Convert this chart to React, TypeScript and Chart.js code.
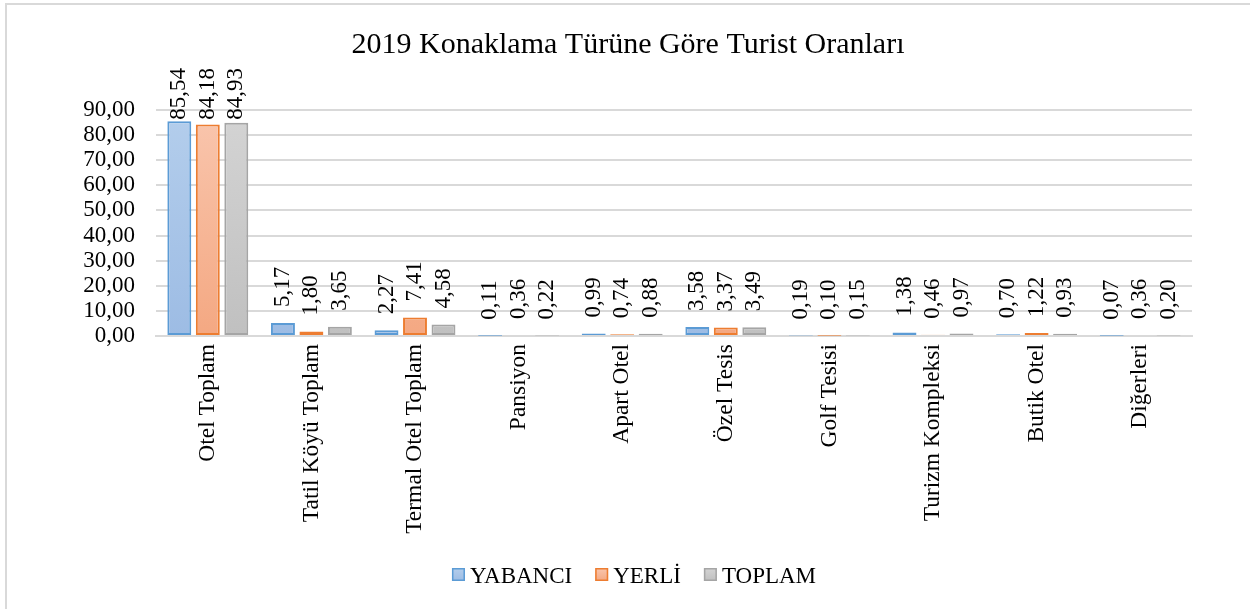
import React, { useEffect, useRef } from "react";
import { Chart, registerables } from "chart.js";

Chart.register(...registerables);

const title = "2019 Konaklama Türüne Göre Turist Oranları";
const categories = [
  "Otel Toplam",
  "Tatil Köyü Toplam",
  "Termal Otel Toplam",
  "Pansiyon",
  "Apart Otel",
  "Özel Tesis",
  "Golf Tesisi",
  "Turizm Kompleksi",
  "Butik Otel",
  "Diğerleri",
];
const seriesNames = ["YABANCI", "YERLİ", "TOPLAM"];
const yabanci = [85.54, 5.17, 2.27, 0.11, 0.99, 3.58, 0.19, 1.38, 0.7, 0.07];
const yerli = [84.18, 1.8, 7.41, 0.36, 0.74, 3.37, 0.1, 0.46, 1.22, 0.36];
const toplam = [84.93, 3.65, 4.58, 0.22, 0.88, 3.49, 0.15, 0.97, 0.93, 0.2];

const FONT = "'Liberation Serif', 'Times New Roman', serif";
const borderColors = ["#5b9bd5", "#ed7d31", "#a5a5a5"];
const topColors = ["#b4ceec", "#f9c6ae", "#d4d4d4"];
const bottomColors = ["#9dbce4", "#f4a882", "#c0c0c0"];

const fmt = (v: number) => v.toFixed(2).replace(".", ",");

function gradientFor(i: number) {
  return (ctx: any) => {
    const chart = ctx.chart;
    const area = chart.chartArea;
    if (!area) return bottomColors[i];
    const g = chart.ctx.createLinearGradient(0, area.top, 0, area.bottom);
    g.addColorStop(0, topColors[i]);
    g.addColorStop(1, bottomColors[i]);
    return g;
  };
}

const decorPlugin = {
  id: "decor",
  beforeDraw(chart: any) {
    const ctx = chart.ctx;
    ctx.save();
    ctx.fillStyle = "#ffffff";
    ctx.fillRect(0, 0, chart.width, chart.height);
    ctx.strokeStyle = "#d9d9d9";
    ctx.lineWidth = 2;
    ctx.beginPath();
    ctx.moveTo(6, chart.height);
    ctx.lineTo(6, 4);
    ctx.lineTo(chart.width, 4);
    ctx.stroke();
    ctx.restore();
  },
  afterDraw(chart: any) {
    const ctx = chart.ctx;
    ctx.save();
    ctx.fillStyle = "#000";
    ctx.font = `30px ${FONT}`;
    ctx.textAlign = "center";
    ctx.textBaseline = "alphabetic";
    ctx.fillText(title, 628, 53);
    ctx.font = `23px ${FONT}`;
    ctx.textAlign = "left";
    const box = 13;
    const gapBoxText = 5;
    const gapItems = 23;
    const widths = seriesNames.map((n) => ctx.measureText(n).width);
    const total =
      widths.reduce((a, b) => a + b, 0) +
      seriesNames.length * (box + gapBoxText) +
      (seriesNames.length - 1) * gapItems;
    let x = 634 - total / 2;
    const by = 568;
    seriesNames.forEach((n, i) => {
      const g = ctx.createLinearGradient(0, by, 0, by + box);
      g.addColorStop(0, topColors[i]);
      g.addColorStop(1, bottomColors[i]);
      ctx.fillStyle = g;
      ctx.fillRect(x, by, box, box);
      ctx.strokeStyle = borderColors[i];
      ctx.lineWidth = 1.5;
      ctx.strokeRect(x + 0.75, by + 0.75, box - 1.5, box - 1.5);
      ctx.fillStyle = "#000";
      ctx.fillText(n, x + box + gapBoxText, 583);
      x += box + gapBoxText + widths[i] + gapItems;
    });
    ctx.restore();
  },
  afterDatasetsDraw(chart: any) {
    const ctx = chart.ctx;
    ctx.save();
    ctx.font = `23px ${FONT}`;
    ctx.fillStyle = "#000";
    ctx.textAlign = "left";
    ctx.textBaseline = "middle";
    chart.data.datasets.forEach((ds: any, di: number) => {
      const meta = chart.getDatasetMeta(di);
      meta.data.forEach((el: any, i: number) => {
        const text = fmt(ds.data[i]);
        const w = ctx.measureText(text).width;
        let bottom = el.y - 16;
        if (bottom - w < 68) bottom = 68 + w;
        ctx.save();
        ctx.translate(el.x, bottom);
        ctx.rotate(-Math.PI / 2);
        ctx.fillText(text, 0, 0);
        ctx.restore();
      });
    });
    ctx.restore();
  },
};

export default function App() {
  const ref = useRef<HTMLCanvasElement | null>(null);
  useEffect(() => {
    if (!ref.current) return;
    const data = [yabanci, yerli, toplam];
    const chart = new Chart(ref.current, {
      type: "bar",
      data: {
        labels: categories,
        datasets: seriesNames.map((name, i) => ({
          label: name,
          data: data[i],
          backgroundColor: gradientFor(i),
          borderColor: borderColors[i],
          borderWidth: 2,
          borderSkipped: false,
          barPercentage: 0.84,
          categoryPercentage: 0.825,
        })),
      },
      options: {
        animation: false,
        responsive: false,
        devicePixelRatio: 1,
        layout: { padding: { left: 10, right: 58, top: 110, bottom: 73 } },
        plugins: {
          legend: { display: false },
          title: { display: false },
          tooltip: { enabled: false },
        },
        scales: {
          x: {
            afterFit: (s: any) => {
              s.height = 200;
            },
            grid: { display: false, drawTicks: false },
            border: { display: true, color: "#d9d9d9", width: 2 },
            ticks: {
              autoSkip: false,
              minRotation: 90,
              maxRotation: 90,
              padding: 8,
              color: "#000",
              font: { family: FONT, size: 23.5 },
            },
          },
          y: {
            min: 0,
            max: 90,
            afterFit: (s: any) => {
              s.width = 146;
            },
            grid: { color: "#d9d9d9", lineWidth: 2, drawTicks: false },
            border: { display: false },
            ticks: {
              autoSkip: false,
              stepSize: 10,
              padding: 21,
              color: "#000",
              font: { family: FONT, size: 23 },
              callback: (v: any) => fmt(Number(v)),
            },
          },
        },
      },
      plugins: [decorPlugin],
    });
    return () => chart.destroy();
  }, []);
  return (
    <div style={{ position: "absolute", left: 0, top: 0, width: 1250, height: 609 }}>
      <canvas ref={ref} width={1250} height={609} style={{ width: 1250, height: 609, display: "block" }} />
    </div>
  );
}
